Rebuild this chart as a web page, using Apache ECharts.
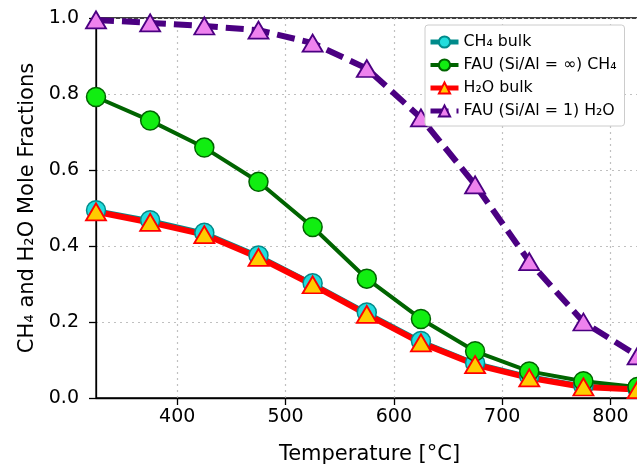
<!DOCTYPE html>
<html><head><meta charset="utf-8">
<script src="https://cdn.jsdelivr.net/npm/echarts@6/dist/echarts.min.js"></script>
<style>html,body{margin:0;padding:0;background:#fff}#c{width:637px;height:464px}</style>
</head><body><div id="c"></div>
<script>
const temperatures = [325, 375, 425, 475, 525, 575, 625, 675, 725, 775, 825];
const ch4Bulk   = [0.494, 0.468, 0.435, 0.375, 0.302, 0.225, 0.150, 0.092, 0.057, 0.032, 0.024];
const fauCH4    = [0.792, 0.730, 0.659, 0.569, 0.450, 0.314, 0.208, 0.123, 0.070, 0.044, 0.029];
const h2oBulk   = [0.490, 0.462, 0.430, 0.370, 0.298, 0.220, 0.145, 0.088, 0.053, 0.029, 0.022];
const fauH2O    = [0.995, 0.987, 0.979, 0.968, 0.934, 0.867, 0.737, 0.561, 0.359, 0.200, 0.111];
const xTicks = [400, 500, 600, 700, 800];
const yTicks = [0.0, 0.2, 0.4, 0.6, 0.8, 1.0];
const seriesNames = ['CH₄ bulk', 'FAU (Si/Al = ∞) CH₄', 'H₂O bulk', 'FAU (Si/Al = 1) H₂O'];

const pairs = arr => temperatures.map((t, i) => [t, arr[i]]);
const FONT = 'DejaVu Sans';
const chart = echarts.init(document.getElementById('c'), null, {renderer: 'canvas'});
chart.setOption({
  animation: false,
  textStyle: {fontFamily: FONT},
  grid: {left: 96, top: 18, width: 547, height: 380, show: true, borderColor: '#000', borderWidth: 1.3,
         backgroundColor: 'transparent', containLabel: false, outerBoundsMode: 'none'},
  legend: {
    orient: 'vertical', left: 425, top: 25,
    backgroundColor: '#fff', borderColor: '#cccccc', borderWidth: 1, borderRadius: 3,
    padding: [9, 8, 7, 3], itemWidth: 28, itemHeight: 14, itemGap: 7,
    textStyle: {fontSize: 15.8, color: '#000', fontFamily: FONT},
    data: seriesNames.map((n, i) => ({name: n, lineStyle: {width: i === 1 ? 4 : 5}}))
  },
  xAxis: {
    type: 'value', min: 325, max: 830,
    name: 'Temperature [°C]', nameLocation: 'middle', nameGap: 46,
    nameTextStyle: {fontSize: 21, color: '#000', fontFamily: FONT},
    axisLine: {lineStyle: {color: '#000', width: 1.3}},
    axisTick: {show: true, length: 7, lineStyle: {color: '#000', width: 1.3}, customValues: xTicks},
    axisLabel: {fontSize: 19, color: '#000', margin: 10, customValues: xTicks},
    splitLine: {show: true, lineStyle: {color: '#c0c0c0', type: [2, 4], width: 1.2}}
  },
  yAxis: {
    type: 'value', min: 0, max: 1, interval: 0.2,
    name: 'CH₄ and H₂O Mole Fractions', nameLocation: 'middle', nameGap: 58,
    nameTextStyle: {fontSize: 21, color: '#000', fontFamily: FONT},
    axisLine: {show: true, lineStyle: {color: '#000', width: 1.3}},
    axisTick: {show: true, length: 7, lineStyle: {color: '#000', width: 1.3}},
    axisLabel: {fontSize: 19, color: '#000', margin: 17, formatter: v => v.toFixed(1)},
    splitLine: {show: true, lineStyle: {color: '#c0c0c0', type: [2, 4], width: 1.2}}
  },
  series: [
    {name: seriesNames[0], type: 'line', data: pairs(ch4Bulk), symbol: 'circle', symbolSize: 19,
     lineStyle: {color: '#008b8b', width: 4}, itemStyle: {color: '#22dddd', borderColor: '#008b8b', borderWidth: 1.5}},
    {name: seriesNames[1], type: 'line', data: pairs(fauCH4), symbol: 'circle', symbolSize: 19,
     lineStyle: {color: '#006400', width: 4}, itemStyle: {color: '#11ee11', borderColor: '#006400', borderWidth: 1.5}},
    {name: seriesNames[2], type: 'line', data: pairs(h2oBulk), symbol: 'triangle', symbolSize: [20, 17],
     lineStyle: {color: '#ff0000', width: 6}, itemStyle: {color: '#ffcc00', borderColor: '#ff0000', borderWidth: 1.8}},
    {name: seriesNames[3], type: 'line', data: pairs(fauH2O), symbol: 'triangle', symbolSize: [20, 17],
     lineStyle: {color: '#4b0082', width: 6, type: [18, 8]}, itemStyle: {color: '#ee82ee', borderColor: '#4b0082', borderWidth: 1.8}}
  ]
});
</script></body></html>
